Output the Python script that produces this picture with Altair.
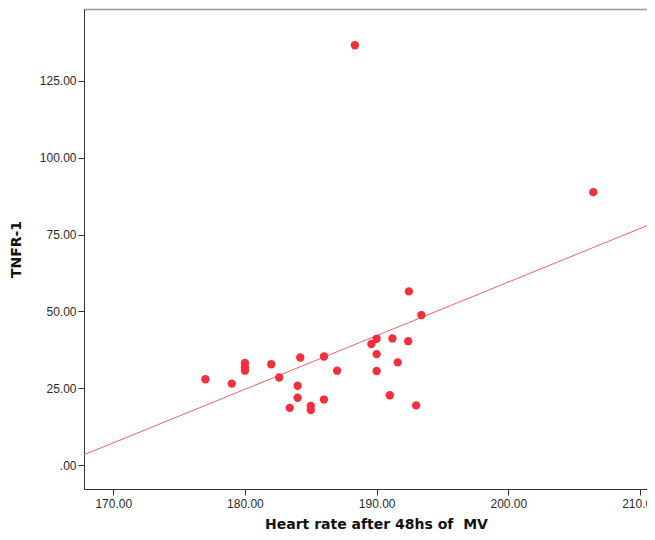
import altair as alt
import pandas as pd

heart_rate = [177.0, 179.0, 180.0, 180.0, 180.0, 182.0, 182.6, 184.2, 184.0, 184.0,
              183.4, 185.0, 185.0, 186.0, 186.0, 187.0, 192.45, 193.4, 189.6, 190.0,
              191.2, 192.4, 190.0, 191.6, 190.0, 191.0, 193.0, 188.35, 206.45]
tnfr1 = [27.9, 26.5, 33.2, 31.8, 30.7, 32.8, 28.5, 35.0, 25.8, 21.9,
         18.6, 19.2, 17.9, 35.3, 21.3, 30.7, 56.5, 48.8, 39.4, 41.1,
         41.2, 40.3, 36.1, 33.4, 30.6, 22.7, 19.4, 136.6, 88.8]

x_ticks = [170, 180, 190, 200, 210]
y_ticks = [0, 25, 50, 75, 100, 125]
x_domain = [167.78, 210.53]
y_domain = [-7.8, 148.4]

df = pd.DataFrame({"hr": heart_rate, "tnfr": tnfr1})

label_expr = "datum.value == 0 ? '.00' : format(datum.value, '.2f')"
x_scale = alt.Scale(domain=x_domain, nice=False, zero=False)
y_scale = alt.Scale(domain=y_domain, nice=False, zero=False)

x_enc = alt.X("hr:Q", scale=x_scale,
              axis=alt.Axis(values=x_ticks, labelExpr=label_expr, grid=False,
                            title="Heart rate after 48hs of\u00a0\u00a0MV",
                            titleFontSize=14, titleFontWeight="bold", titleColor="#111",
                            titlePadding=8, titleX=292, titleAlign="center",
                            labelFontSize=12, labelColor="#2a2a2a",
                            labelPadding=3, tickSize=6, tickColor="#333",
                            domainColor="#333", labelFont="Liberation Sans",
                            titleFont="DejaVu Sans"))
y_enc = alt.Y("tnfr:Q", scale=y_scale,
              axis=alt.Axis(values=y_ticks, labelExpr=label_expr, grid=False,
                            title="TNFR-1",
                            titleFontSize=14, titleFontWeight="bold", titleColor="#111",
                            titlePadding=16, labelFontSize=12, labelColor="#2a2a2a",
                            labelPadding=2, tickSize=6, tickColor="#333",
                            domainColor="#333", labelFont="Liberation Sans",
                            titleFont="DejaVu Sans"))

base = alt.Chart(df)

points = base.mark_circle(size=70, color="#f2303c", opacity=1).encode(x=x_enc, y=y_enc)

fit = base.transform_regression("hr", "tnfr", extent=x_domain).mark_line(
    color="#f26060", strokeWidth=1, clip=True
).encode(
    x=alt.X("hr:Q", scale=x_scale,
            axis=alt.Axis(orient="top", labels=False, ticks=False, grid=False,
                          title=None, domainColor="#999", domainWidth=1.5)),
    y=y_enc,
)

chart = alt.layer(fit, points).resolve_axis(x="independent").properties(
    width=563, height=480,
    autosize=alt.AutoSizeParams(type="none"),
    padding={"left": 76, "top": 1, "right": 0, "bottom": 43},
).configure_view(stroke=None).configure(background="white")

chart.save("out.html", embed_options={"renderer": "svg", "actions": False})
